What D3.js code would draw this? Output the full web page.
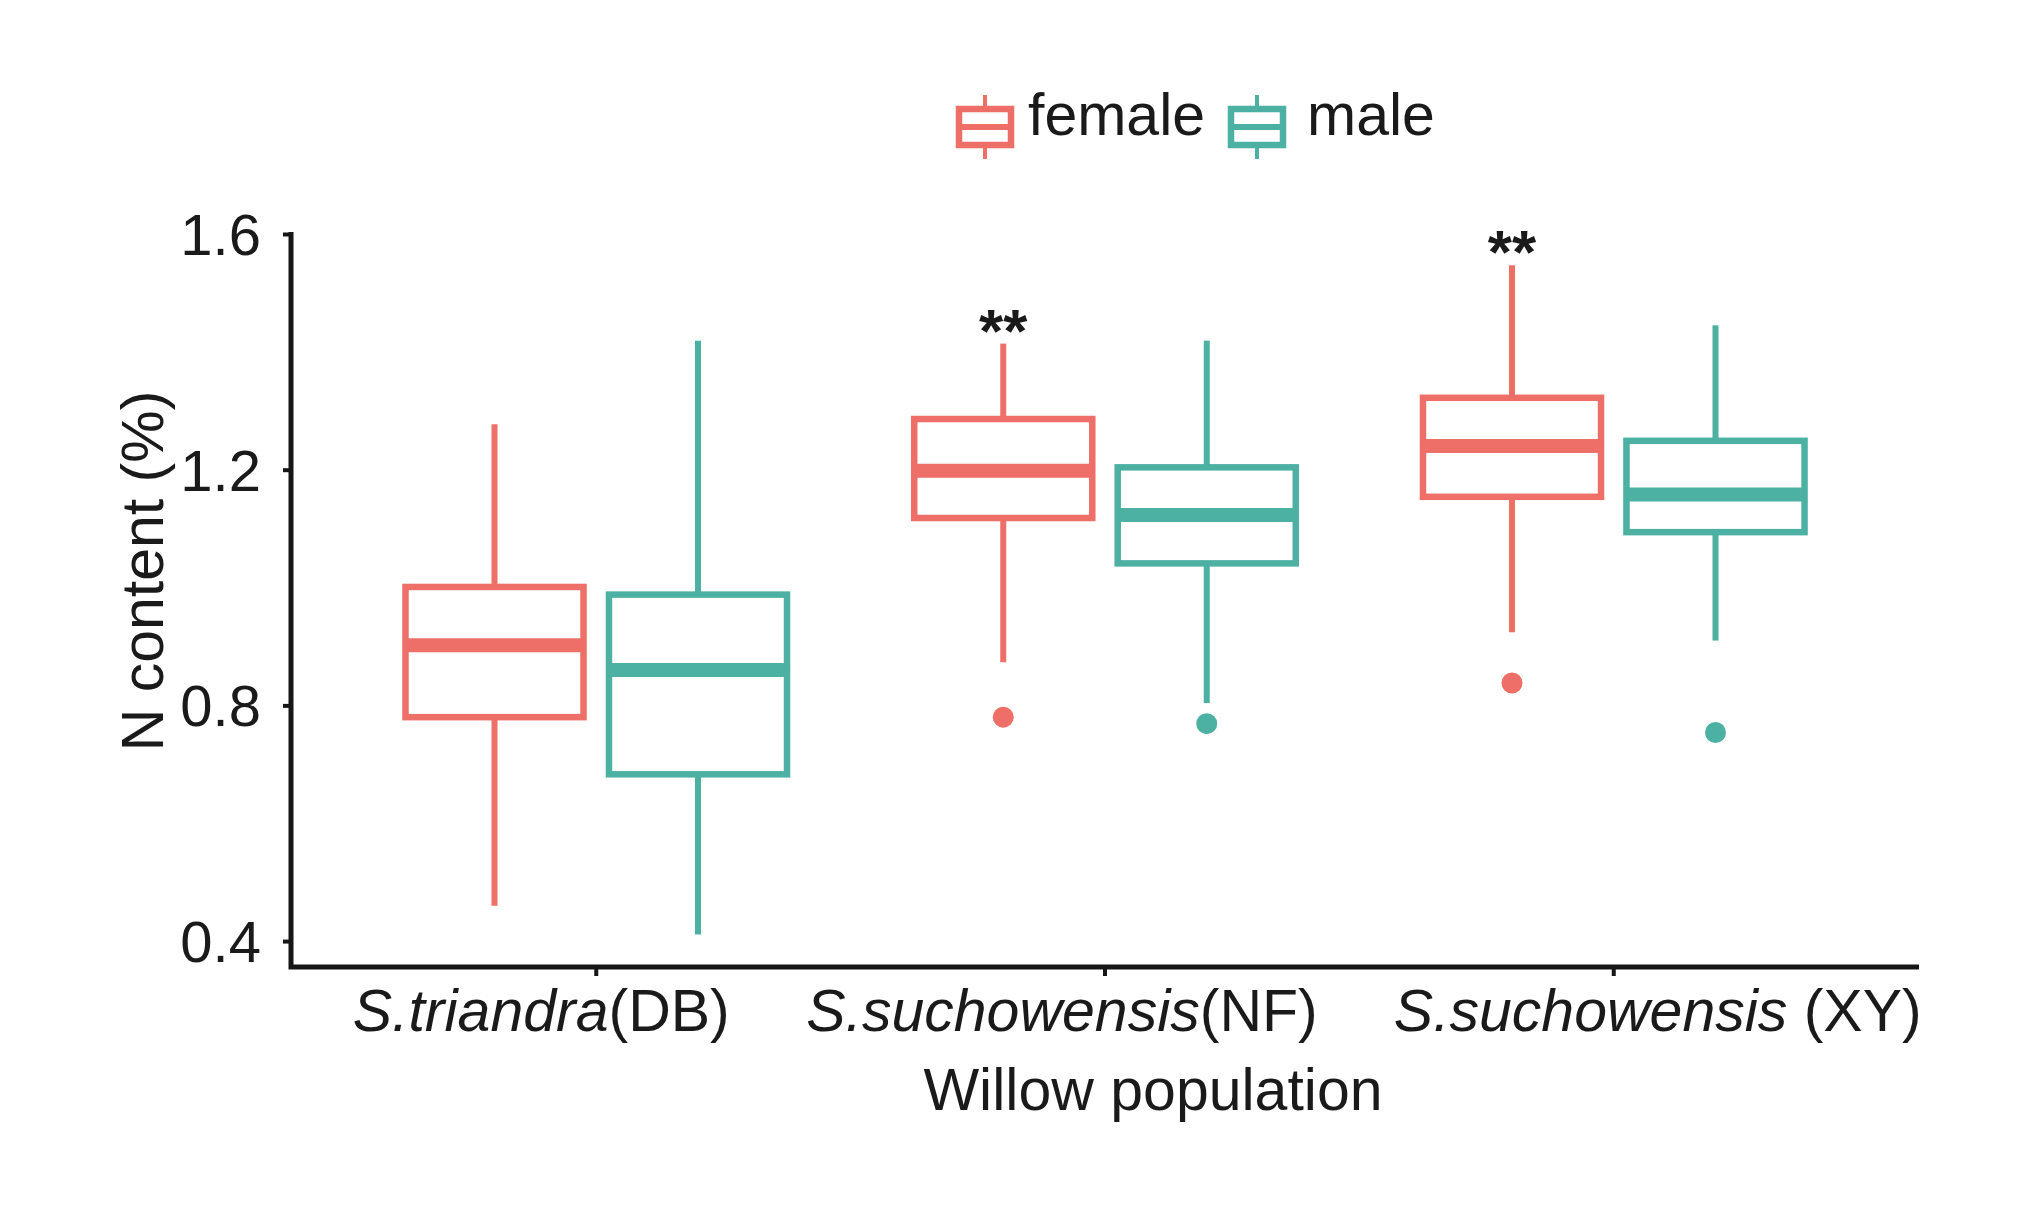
<!DOCTYPE html>
<html><head><meta charset="utf-8">
<script src="https://cdn.jsdelivr.net/npm/d3@7"></script>
<style>body{margin:0;background:#fff}text{font-family:"Liberation Sans",Arial,sans-serif;fill:#1a1a1a}</style>
</head><body>
<svg id="c" width="2040" height="1207"></svg>
<script>
// ---- data ----
const categories = ["DB", "NF", "XY"];
const speciesNames = ["S.triandra", "S.suchowensis", "S.suchowensis"];
const popCodes = ["(DB)", "(NF)", " (XY)"];
const sexes = ["female", "male"];
// [lower whisker, Q1, median, Q3, upper whisker]
const femaleBox = [[0.460, 0.780, 0.902, 1.001, 1.277],
                   [0.873, 1.118, 1.198, 1.286, 1.414],
                   [0.924, 1.154, 1.240, 1.322, 1.547]];
const maleBox   = [[0.411, 0.683, 0.860, 0.988, 1.419],
                   [0.804, 1.041, 1.123, 1.204, 1.419],
                   [0.910, 1.094, 1.158, 1.249, 1.445]];
const femaleOutliers = [[], [0.780], [0.838]];
const maleOutliers   = [[], [0.769], [0.754]];
const significance = ["", "**", "**"];
const yTicks = [0.4, 0.8, 1.2, 1.6];
const yTitle = "N content (%)";
const xTitle = "Willow population";

// ---- style / layout ----
const colors = {female: "#EE6F67", male: "#4CB1A2"};
const axisColor = "#161616";
const M = {left: 291, right: 1919, top: 234, bottom: 967};
const labelShift = [-55, -43, 44];

const svg = d3.select("#c");
const y = d3.scaleLinear().domain([0.356, 1.6]).range([M.bottom, M.top]);
const x = d3.scaleBand().domain(categories).range([M.left, M.right]).paddingInner(0.2).paddingOuter(0.2);
const xs = d3.scaleBand().domain(sexes).range([0, x.bandwidth()]);
const boxW = xs.bandwidth() * 0.875;

const series = {female: {box: femaleBox, out: femaleOutliers}, male: {box: maleBox, out: maleOutliers}};

const plot = svg.append("g");
categories.forEach((c, i) => {
  sexes.forEach(s => {
    const b = series[s].box[i];
    const cx = x(c) + xs(s) + xs.bandwidth() / 2;
    const g = plot.append("g").attr("stroke", colors[s]).attr("fill", "none");
    g.append("line").attr("x1", cx).attr("x2", cx).attr("y1", y(b[4])).attr("y2", y(b[3])).attr("stroke-width", 6);
    g.append("line").attr("x1", cx).attr("x2", cx).attr("y1", y(b[1])).attr("y2", y(b[0])).attr("stroke-width", 6);
    g.append("rect").attr("x", cx - boxW / 2).attr("width", boxW)
      .attr("y", y(b[3])).attr("height", y(b[1]) - y(b[3]))
      .attr("fill", "#fff").attr("stroke-width", 6.5);
    g.append("line").attr("x1", cx - boxW / 2).attr("x2", cx + boxW / 2)
      .attr("y1", y(b[2])).attr("y2", y(b[2])).attr("stroke-width", 14);
    series[s].out[i].forEach(v => {
      plot.append("circle").attr("cx", cx).attr("cy", y(v)).attr("r", 10.5).attr("fill", colors[s]);
    });
    if (s === "female" && significance[i]) {
      plot.append("text").attr("x", cx).attr("y", y(b[4]) + 8)
        .attr("text-anchor", "middle").attr("font-size", 62).attr("font-weight", "bold")
        .text(significance[i]);
    }
  });
});

// ---- axes ----
const yAxis = d3.axisLeft(y).tickValues(yTicks).tickFormat(d3.format(".1f")).tickSize(8).tickPadding(22);
const gy = svg.append("g").attr("transform", `translate(${M.left},0)`).call(yAxis);
gy.select(".domain").remove();
gy.selectAll(".tick line").attr("stroke", axisColor).attr("stroke-width", 4);
gy.selectAll(".tick text").attr("font-size", 58).attr("fill", "#1a1a1a")
  .attr("font-family", '"Liberation Sans",Arial,sans-serif').attr("dy", "0.35em");

const xAxis = d3.axisBottom(x).tickSize(9).tickFormat("");
const gx = svg.append("g").attr("transform", `translate(0,${M.bottom})`).call(xAxis);
gx.select(".domain").remove();
gx.selectAll(".tick line").attr("stroke", axisColor).attr("stroke-width", 4);

svg.append("path").attr("d", `M${M.left},${M.top - 2}V${M.bottom}H${M.right}`)
  .attr("fill", "none").attr("stroke", axisColor).attr("stroke-width", 5).attr("stroke-linejoin", "miter");

// x tick labels
categories.forEach((c, i) => {
  const t = svg.append("text").attr("x", x(c) + x.bandwidth() / 2 + labelShift[i]).attr("y", 1031)
    .attr("text-anchor", "middle").attr("font-size", 59);
  t.append("tspan").attr("font-style", "italic").text(speciesNames[i]);
  t.append("tspan").text(popCodes[i]);
});

// titles
svg.append("text").attr("x", 1153).attr("y", 1110).attr("text-anchor", "middle").attr("font-size", 59).text(xTitle);
svg.append("text").attr("transform", "translate(163,571) rotate(-90)").attr("text-anchor", "middle")
  .attr("font-size", 59).text(yTitle);

// ---- legend ----
const legX = [985, 1257], legTextX = [1028, 1307];
sexes.forEach((s, i) => {
  const g = svg.append("g").attr("stroke", colors[s]).attr("fill", "none");
  const cx = legX[i], cy = 127;
  g.append("line").attr("x1", cx).attr("x2", cx).attr("y1", cy - 32).attr("y2", cy + 32).attr("stroke-width", 4);
  g.append("rect").attr("x", cx - 26).attr("y", cy - 18).attr("width", 52).attr("height", 36)
    .attr("fill", "#fff").attr("stroke-width", 6.5);
  g.append("line").attr("x1", cx - 26).attr("x2", cx + 26).attr("y1", cy).attr("y2", cy).attr("stroke-width", 6);
  svg.append("text").attr("x", legTextX[i]).attr("y", 135).attr("font-size", 59).text(s);
});
</script>
</body></html>
